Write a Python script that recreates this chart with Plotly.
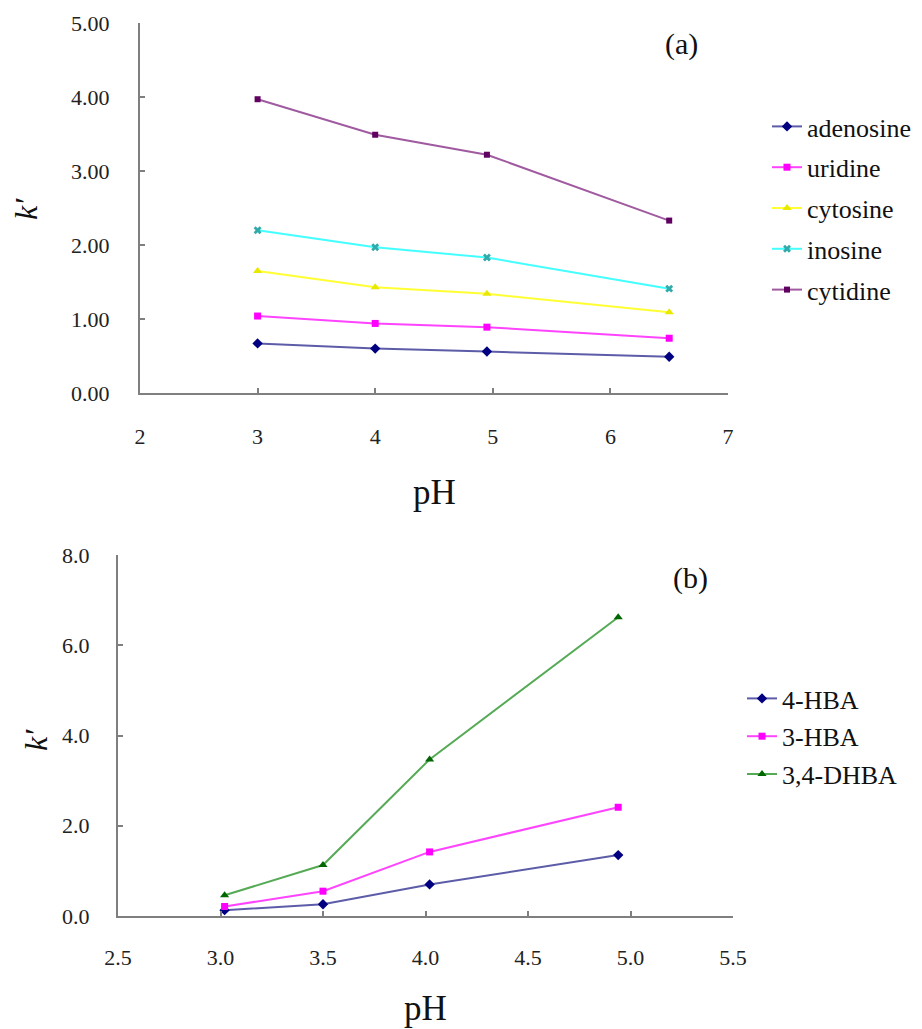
import plotly.graph_objects as go

# ---- data (a) ----
ph_a = [3.0, 4.0, 4.95, 6.5]
adenosine = [0.67, 0.60, 0.56, 0.49]
uridine = [1.04, 0.94, 0.89, 0.74]
cytosine = [1.65, 1.43, 1.34, 1.09]
inosine = [2.20, 1.97, 1.83, 1.41]
cytidine = [3.97, 3.49, 3.22, 2.33]

# ---- data (b) ----
ph_b = [3.02, 3.5, 4.02, 4.94]
hba4 = [0.13, 0.26, 0.70, 1.35]
hba3 = [0.21, 0.55, 1.42, 2.41]
dhba34 = [0.46, 1.13, 3.47, 6.62]

W, H = 922, 1029
OFF = 8  # page body margin
FONT = "Liberation Serif, Times New Roman, serif"

fig = go.Figure()

def add(x, y, name, lc, mc, sym, xa, ya, leg, size=7):
    fig.add_trace(go.Scatter(
        x=x, y=y, name=name, mode="lines+markers", legendgroup=name,
        line=dict(color=lc, width=2),
        marker=dict(color=mc, symbol=sym, size=size, line=dict(width=0)),
        xaxis=xa, yaxis=ya, legend=leg))

add(ph_a, adenosine, "adenosine", "#5c5ca8", "#000080", "diamond", "x", "y", "legend", 8)
add(ph_a, uridine, "uridine", "#ff44ff", "#ff00ff", "square", "x", "y", "legend")
add(ph_a, cytosine, "cytosine", "#ffff33", "#e8e800", "triangle-up", "x", "y", "legend", 8)
add(ph_a, inosine, "inosine", "#44ffff", "#33aaaa", "x", "x", "y", "legend")
add(ph_a, cytidine, "cytidine", "#a05aa0", "#600060", "square", "x", "y", "legend", 6)

add(ph_b, hba4, "4-HBA", "#5c5ca8", "#000080", "diamond", "x2", "y2", "legend2", 8)
add(ph_b, hba3, "3-HBA", "#ff44ff", "#ff00ff", "square", "x2", "y2", "legend2")
add(ph_b, dhba34, "3,4-DHBA", "#55aa55", "#006600", "triangle-up", "x2", "y2", "legend2", 8)

def px_x(p):
    return (p - OFF) / W

def px_y(p):
    return 1 - (p - OFF) / H

axis_common = dict(showline=True, linecolor="#7f7f7f", linewidth=2,
                   ticks="inside", ticklen=5, tickwidth=1.5, tickcolor="#7f7f7f",
                   showgrid=False, zeroline=False, automargin=False,
                   tickfont=dict(family=FONT, size=22, color="#222"))

def ann(text, x, y, size, angle=0):
    return dict(text=text, x=px_x(x), y=px_y(y), xref="paper", yref="paper",
                xanchor="center", yanchor="middle", showarrow=False,
                textangle=angle, font=dict(family=FONT, size=size, color="#111"))

fig.update_layout(
    width=W, height=H, margin=dict(l=0, r=0, t=0, b=0, autoexpand=False),
    paper_bgcolor="white", plot_bgcolor="white",
    font=dict(family=FONT, color="#111"),
    showlegend=True,
    xaxis=dict(domain=[px_x(140), px_x(728)], range=[2, 7], dtick=1,
               anchor="y", ticklabelstandoff=23, **axis_common),
    yaxis=dict(domain=[px_y(393), px_y(23)], range=[0, 5], dtick=1,
               tickformat=".2f", anchor="x", ticklabelstandoff=24, **axis_common),
    xaxis2=dict(domain=[px_x(118), px_x(733)], range=[2.5, 5.5], dtick=0.5,
                tickformat=".1f", anchor="y2", ticklabelstandoff=21, **axis_common),
    yaxis2=dict(domain=[px_y(916), px_y(555)], range=[0, 8], dtick=2,
                tickformat=".1f", anchor="x2", ticklabelstandoff=22, **axis_common),
    legend=dict(x=px_x(767), y=px_y(103), xanchor="left", yanchor="top",
                font=dict(family=FONT, size=26, color="#111"),
                bgcolor="rgba(0,0,0,0)", tracegroupgap=4, itemwidth=30),
    legend2=dict(x=px_x(742), y=px_y(675), xanchor="left", yanchor="top",
                 font=dict(family=FONT, size=26, color="#111"),
                 bgcolor="rgba(0,0,0,0)", tracegroupgap=1, itemwidth=30),
    annotations=[
        ann("(a)", 681, 44, 30),
        ann("(b)", 690, 578, 30),
        ann("pH", 434, 492, 35),
        ann("pH", 425, 1008, 35),
        ann("<i>k′</i>", 26, 209, 32, -90),
        ann("<i>k′</i>", 36, 740, 32, -90),
    ],
)

fig.write_html("out.html")
